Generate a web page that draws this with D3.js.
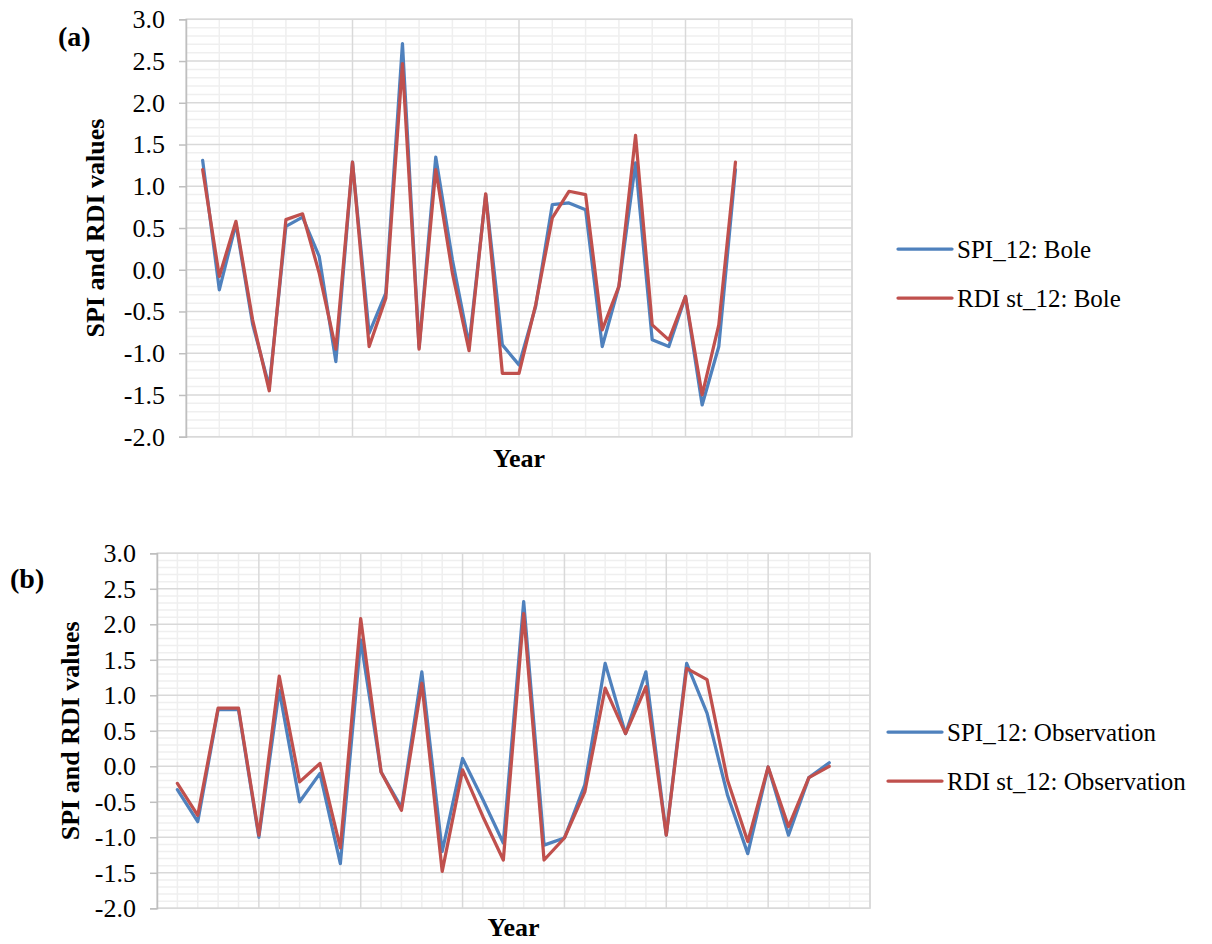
<!DOCTYPE html>
<html>
<head>
<meta charset="utf-8">
<script src="https://cdn.jsdelivr.net/npm/d3@7"></script>
<style>
  html, body { margin: 0; padding: 0; background: #fff; }
  svg { display: block; }
  svg text { font-family: 'Liberation Serif', 'Times New Roman', 'DejaVu Serif', serif !important; fill: #000; }
</style>
</head>
<body>
<div id="chart"></div>
<script>
// year index along the category axis (no year labels are printed on the chart)
const yearIndex = d3.range(1, 34)

// panel (a) - Bole
const spiBole = [1.31, -0.24, 0.55, -0.65, -1.40, 0.52, 0.63, 0.16, -1.10, 1.29, -0.76, -0.28, 2.71, -0.93, 1.35, 0.12, -0.90,
  0.90, -0.90, -1.14, -0.44, 0.78, 0.80, 0.72, -0.92, -0.20, 1.28, -0.84, -0.92, -0.32, -1.62, -0.92, 1.20]
const rdiBole = [1.20, -0.08, 0.58, -0.60, -1.45, 0.60, 0.67, -0.04, -0.95, 1.29, -0.92, -0.34, 2.47, -0.95, 1.20, -0.04, -0.97,
  0.91, -1.24, -1.24, -0.42, 0.62, 0.94, 0.90, -0.72, -0.20, 1.61, -0.66, -0.84, -0.32, -1.50, -0.66, 1.29]

// panel (b) - Observation
const spiObs = [-0.33, -0.78, 0.80, 0.80, -1.00, 1.07, -0.50, -0.10, -1.37, 1.78, -0.08, -0.58, 1.33, -1.20, 0.11, -0.47, -1.08,
  2.32, -1.11, -1.01, -0.26, 1.45, 0.46, 1.33, -0.97, 1.45, 0.75, -0.40, -1.23, -0.01, -0.97, -0.16, 0.05]
const rdiObs = [-0.24, -0.69, 0.82, 0.82, -0.97, 1.27, -0.22, 0.04, -1.15, 2.08, -0.08, -0.62, 1.17, -1.48, -0.05, -0.71, -1.32,
  2.15, -1.32, -1.01, -0.36, 1.10, 0.46, 1.12, -0.97, 1.38, 1.22, -0.19, -1.06, -0.01, -0.85, -0.16, 0.00]

const yTicks = [3.0, 2.5, 2.0, 1.5, 1.0, 0.5, 0.0, -0.5, -1.0, -1.5, -2.0]
const seriesColors = ['#4f81bd', '#c0504d']

const width = 1212
const height = 944

const svg = d3.select('#chart')
  .append('svg')
  .attr('width', width)
  .attr('height', height)

svg.append('rect').attr('width', width).attr('height', height).attr('fill', '#fff')

const panels = [
  {
    tag: '(a)',
    tagPos: [58, 46],
    box: { left: 186, right: 852, top: 19.3, bottom: 436.7 },
    xMax: 40,
    minorStep: 2,
    majorStep: 10,
    titleX: 104,
    yearY: 467,
    legendX: 898,
    legendY: [249, 298],
    series: [
      { name: 'SPI_12: Bole', values: spiBole },
      { name: 'RDI st_12: Bole', values: rdiBole }
    ]
  },
  {
    tag: '(b)',
    tagPos: [10, 588],
    box: { left: 157, right: 870, top: 553.3, bottom: 908.3 },
    xMax: 35,
    minorStep: 1,
    majorStep: 5,
    titleX: 79,
    yearY: 936,
    legendX: 888,
    legendY: [732, 781],
    series: [
      { name: 'SPI_12: Observation', values: spiObs },
      { name: 'RDI st_12: Observation', values: rdiObs }
    ]
  }
]

panels.forEach(p => drawPanel(p))

function drawPanel (p) {
  const { left, right, top, bottom } = p.box

  const x = d3.scaleLinear().domain([0, p.xMax]).range([left, right])
  const y = d3.scaleLinear().domain([-2, 3]).range([bottom, top])

  const g = svg.append('g')

  // minor horizontal grid every 0.1
  const minorY = d3.range(-20, 31).map(v => v / 10).filter(v => Math.round(v * 10) % 5 !== 0)
  g.append('g')
    .selectAll('line')
    .data(minorY)
    .join('line')
    .attr('x1', left).attr('x2', right)
    .attr('y1', d => y(d)).attr('y2', d => y(d))
    .attr('stroke', '#efefef')
    .attr('stroke-width', 1.5)

  // minor vertical grid
  const minorX = d3.range(0, p.xMax + 1, p.minorStep).filter(v => v % p.majorStep !== 0)
  g.append('g')
    .selectAll('line')
    .data(minorX)
    .join('line')
    .attr('x1', d => x(d)).attr('x2', d => x(d))
    .attr('y1', top).attr('y2', bottom)
    .attr('stroke', '#efefef')
    .attr('stroke-width', 1.5)

  // major horizontal grid
  g.append('g')
    .selectAll('line')
    .data(yTicks)
    .join('line')
    .attr('x1', left).attr('x2', right)
    .attr('y1', d => y(d)).attr('y2', d => y(d))
    .attr('stroke', '#d9d9d9')
    .attr('stroke-width', 1.5)

  // major vertical grid
  g.append('g')
    .selectAll('line')
    .data(d3.range(p.majorStep, p.xMax + 1, p.majorStep))
    .join('line')
    .attr('x1', d => x(d)).attr('x2', d => x(d))
    .attr('y1', top).attr('y2', bottom)
    .attr('stroke', '#d9d9d9')
    .attr('stroke-width', 1.5)

  // plot border
  g.append('rect')
    .attr('x', left).attr('y', top)
    .attr('width', right - left).attr('height', bottom - top)
    .attr('fill', 'none')
    .attr('stroke', '#d9d9d9')
    .attr('stroke-width', 1.5)

  // y axis, hyphen minus like the original
  const yAxis = d3.axisLeft(y)
    .tickValues(yTicks)
    .tickSize(7)
    .tickPadding(14)
    .tickFormat(d => d.toFixed(1))

  const ax = g.append('g')
    .attr('transform', `translate(${left},0)`)
    .call(yAxis)

  ax.attr('font-family', null).attr('font-size', null)
  ax.select('.domain').attr('stroke', '#bfbfbf').attr('stroke-width', 1.5)
  ax.selectAll('.tick line').attr('stroke', '#bfbfbf').attr('stroke-width', 1.5)
  ax.selectAll('.tick text')
    .style('font-size', '26px')
    .attr('fill', '#000')

  // series lines
  const line = d3.line()
    .x((d, i) => x(yearIndex[i]))
    .y(d => y(d))

  p.series.forEach((s, i) => {
    g.append('path')
      .datum(s.values)
      .attr('d', line)
      .attr('fill', 'none')
      .attr('stroke', seriesColors[i])
      .attr('stroke-width', 3.25)
      .attr('stroke-linejoin', 'round')
      .attr('stroke-linecap', 'round')
  })

  // axis titles
  g.append('text')
    .attr('transform', `translate(${p.titleX},${(top + bottom) / 2}) rotate(-90)`)
    .attr('text-anchor', 'middle')
    .style('font-size', '26px')
    .style('font-weight', 'bold')
    .text('SPI and RDI values')

  g.append('text')
    .attr('x', (left + right) / 2)
    .attr('y', p.yearY)
    .attr('text-anchor', 'middle')
    .style('font-size', '26px')
    .style('font-weight', 'bold')
    .text('Year')

  g.append('text')
    .attr('x', p.tagPos[0])
    .attr('y', p.tagPos[1])
    .style('font-size', '28px')
    .style('font-weight', 'bold')
    .text(p.tag)

  // legend
  p.series.forEach((s, i) => {
    const lg = g.append('g')
      .attr('transform', `translate(${p.legendX},${p.legendY[i]})`)

    lg.append('line')
      .attr('x1', 0).attr('x2', 54)
      .attr('stroke', seriesColors[i])
      .attr('stroke-width', 3.25)
      .attr('stroke-linecap', 'round')

    lg.append('text')
      .attr('x', 59)
      .attr('dy', '0.35em')
      .style('font-size', '25px')
      .text(s.name)
  })
}
</script>
</body>
</html>
